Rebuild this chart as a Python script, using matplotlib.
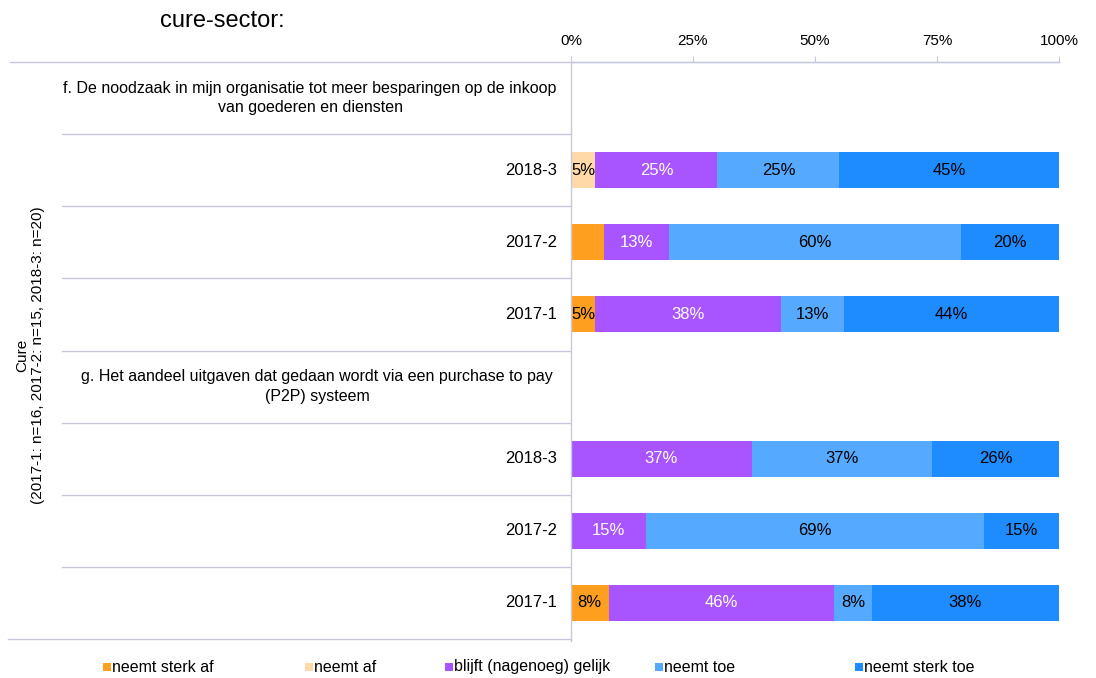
import numpy as np
import matplotlib.pyplot as plt
from matplotlib.patches import Rectangle
from matplotlib.transforms import blended_transform_factory

plt.rcParams['font.family'] = ['Liberation Sans', 'DejaVu Sans']

# data (percentages per wave)
series = ["neemt sterk af", "neemt af", "blijft (nagenoeg) gelijk", "neemt toe", "neemt sterk toe"]
colors = ["#FF9F1F", "#FFDAA8", "#A855FF", "#55A9FF", "#1E8CFF"]
waves = ["2018-3", "2017-2", "2017-1"]
questions = [
    "f. De noodzaak in mijn organisatie tot meer besparingen op de inkoop\nvan goederen en diensten",
    "g. Het aandeel uitgaven dat gedaan wordt via een purchase to pay\n(P2P) systeem",
]

f_sterk_af = [0, 6.7, 5]
f_af = [5, 0, 0]
f_gelijk = [25, 13.3, 38]
f_toe = [25, 60, 13]
f_sterk_toe = [45, 20, 44]

g_sterk_af = [0, 0, 7.7]
g_af = [0, 0, 0]
g_gelijk = [37, 15.4, 46.2]
g_toe = [37, 69.2, 7.7]
g_sterk_toe = [26, 15.4, 38.5]

# labels that are not shown in the original (question, wave index, series index)
hidden = {(0, 1, 0)}

blocks = [
    [f_sterk_af, f_af, f_gelijk, f_toe, f_sterk_toe],
    [g_sterk_af, g_af, g_gelijk, g_toe, g_sterk_toe],
]

line_col = "#C8C8DE"

fig = plt.figure(figsize=(10.96, 6.78), dpi=100)
ax = fig.add_axes([571 / 1096, 1 - 639 / 678, 488 / 1096, 577 / 678])

for q, block in enumerate(blocks):
    ypos = np.arange(len(waves)) + q * 4 + 1.5
    left = np.zeros(len(waves))
    for s, vals in enumerate(block):
        vals = np.array(vals, dtype=float)
        bars = ax.barh(ypos, vals, left=left, height=0.5, color=colors[s], linewidth=0)
        labels = []
        for w, v in enumerate(vals):
            if v <= 0 or (q, w, s) in hidden:
                labels.append("")
            else:
                labels.append(f"{v:.0f}%")
        ax.bar_label(bars, labels=labels, label_type="center", fontsize=12,
                     color="white" if s == 2 else "black")
        left += vals

ax.set_xlim(0, 100)
ax.set_ylim(8, 0)
ax.xaxis.tick_top()
ax.set_xticks([0, 25, 50, 75, 100])
ax.set_xticklabels(["0%", "25%", "50%", "75%", "100%"], fontsize=11)
ax.tick_params(axis="x", length=4, color=line_col, pad=6)
ax.set_yticks([])
for side in ["right", "bottom"]:
    ax.spines[side].set_visible(False)
for side in ["left", "top"]:
    ax.spines[side].set_color(line_col)
    ax.spines[side].set_linewidth(1)

tr = ax.transAxes
# top rule extended to the left, bottom rule, row separators
ax.plot([-1.15, 1], [1, 1], color=line_col, lw=1, transform=tr, clip_on=False)
ax.plot([-1.154, 0], [0, 0], color=line_col, lw=1, transform=tr, clip_on=False)
ax.plot([0, 0], [0, -0.003], color=line_col, lw=1, transform=tr, clip_on=False)
bt = blended_transform_factory(ax.transAxes, ax.transData)
for y in range(1, 8):
    ax.plot([-1.043, 0], [y, y], color=line_col, lw=1, transform=bt, clip_on=False)

# row labels
q_center = [310, 317]
for q in range(2):
    ax.text((q_center[q] - 571) / 488, q * 4 + 0.5, questions[q], transform=bt,
            ha="center", va="center", fontsize=11.5, linespacing=1.35)
    for w, name in enumerate(waves):
        ax.text(-0.0287, q * 4 + 1.5 + w, name, transform=bt, ha="right", va="center",
                fontsize=12)

fig.text(30 / 1096, 1 - 355 / 678, "Cure\n(2017-1: n=16, 2017-2: n=15, 2018-3: n=20)",
         rotation=90, ha="center", va="center", fontsize=11, multialignment="center")
fig.text(160 / 1096, 1 - 21 / 678, "cure-sector:", ha="left", va="center", fontsize=17)

# legend, placed like the original
leg_x = [103, 305, 445, 655, 855]
for x, name, c in zip(leg_x, series, colors):
    fig.add_artist(Rectangle((x / 1096, 1 - 671 / 678), 8 / 1096, 8 / 678,
                             transform=fig.transFigure, color=c, lw=0))
    fig.text((x + 9) / 1096, 1 - 667 / 678, name, ha="left", va="center", fontsize=11.5)

fig.savefig("out.png", dpi=100)
